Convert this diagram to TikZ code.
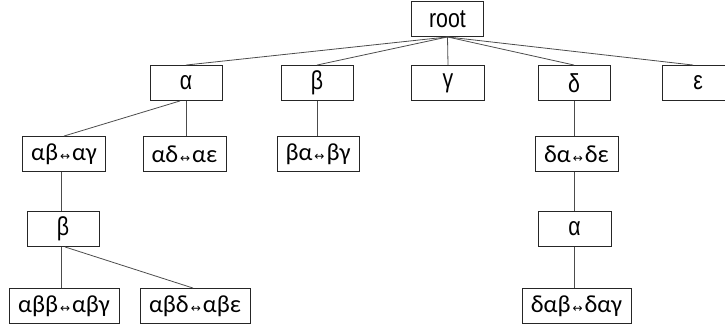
\documentclass[tikz,border=0pt]{standalone}
\usepackage{fontspec}
\setmainfont{Liberation Sans}[FakeStretch=0.82]
\newfontfamily\calfont{Carlito}
\newfontfamily\arrfont{DejaVu Sans}
\newcommand{\lrarr}{\kern2pt{\arrfont\fontsize{12}{12}\selectfont ↔}\kern2pt}
\begin{document}
\begin{tikzpicture}[x=1pt,y=-1pt,
  box/.style={draw=black!85, line width=0.9pt, minimum height=35pt, inner sep=0pt,
    font=\fontsize{26}{28}\selectfont},
  cbox/.style={box, font=\calfont\fontsize{24.5}{27}\selectfont},
  edge/.style={draw=black!70, line width=0.8pt}]
\useasboundingbox (0,0) rectangle (725,328);
\clip (0,0) rectangle (725,328);
\node[box, minimum width=72pt] (root) at (447.5,19) {root};
\node[box, minimum width=72pt] (a) at (186,83) {α};
\node[box, minimum width=72pt] (b) at (317,83) {β};
\node[box, minimum width=73pt] (g) at (448,83) {γ};
\node[box, minimum width=72pt] (d) at (574,83) {δ};
\node[box, minimum width=72pt] (e) at (698,83) {ε};
\node[cbox, minimum width=83pt] (ab) at (64,154) {αβ\lrarr αγ};
\node[cbox, minimum width=83pt] (ad) at (184.5,154) {αδ\lrarr αε};
\node[cbox, minimum width=82pt] (ba) at (318,154) {βα\lrarr βγ};
\node[cbox, minimum width=83pt] (da) at (576.5,154) {δα\lrarr δε};
\node[box, minimum width=72pt] (abb) at (63,229) {β};
\node[box, minimum width=73pt] (daa) at (574.5,229) {α};
\node[cbox, minimum width=110pt] (abbb) at (64,306) {αββ\lrarr αβγ};
\node[cbox, minimum width=110pt] (abbd) at (195,306) {αβδ\lrarr αβε};
\node[cbox, minimum width=109pt] (dab) at (576.5,306) {δαβ\lrarr δαγ};
\draw[edge] (root.south) -- (a.north);
\draw[edge] (root.south) -- (b.north);
\draw[edge] (root.south) -- (g.north);
\draw[edge] (root.south) -- (d.north);
\draw[edge] (root.south) -- ([xshift=-5pt]e.north);
\draw[edge] ([xshift=-6pt]a.south) -- (ab.north);
\draw[edge] (a.south) -- (a.south |- ad.north);
\draw[edge] (b.south) -- (b.south |- ba.north);
\draw[edge] (d.south) -- (d.south |- da.north);
\draw[edge] ([xshift=-3pt]ab.south) -- ([xshift=-3pt]ab.south |- abb.north);
\draw[edge] ([xshift=-2pt]da.south) -- ([xshift=-2pt]da.south |- daa.north);
\draw[edge] ([xshift=-2pt]abb.south) -- ([xshift=-2pt]abb.south |- abbb.north);
\draw[edge] ([xshift=2pt]abb.south) -- ([xshift=-2pt]abbd.north);
\draw[edge] (daa.south) -- (daa.south |- dab.north);
\end{tikzpicture}
\end{document}
